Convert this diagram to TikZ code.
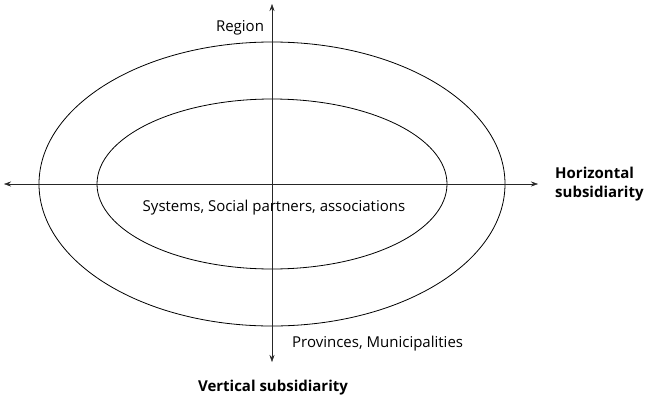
\documentclass[tikz,border=0pt]{standalone}
\usepackage{fontspec}
\setmainfont{Open Sans}
\usetikzlibrary{arrows.meta}

\begin{document}
\begin{tikzpicture}[x=1pt, y=-1pt, every node/.style={font=\fontsize{15}{18}\selectfont},
		axis/.style={draw=black!85, -{Stealth[length=7pt, width=5pt]}},
		ring/.style={draw=black, line width=0.8pt}]
			\useasboundingbox (0,0) rectangle (645,399);

			% Rings
			\draw[ring] (272,184) ellipse [x radius=233, y radius=142];
			\draw[ring] (272,184) ellipse [x radius=175, y radius=85];

			% Axes
			\coordinate (O) at (272,184);
			\coordinate (top) at (272,4);
			\coordinate (bottom) at (272,362);
			\coordinate (left) at (4,184);
			\coordinate (right) at (538,184);
			\draw[axis] (O) -- (top);
			\draw[axis] (O) -- (bottom);
			\draw[axis] (O) -- (left);
			\draw[axis] (O) -- (right);

			% Labels
			\node (region) at (240,28) {Region};
			\node (systems) at (274,208) {Systems, Social partners, associations};
			\node[anchor=west, inner sep=0pt] (provinces) at (292,344) {Provinces, Municipalities};
			\node[anchor=west, inner sep=0pt, align=left, font=\fontsize{15}{19}\selectfont\bfseries] (horizontal) at (555,184) {Horizontal\\subsidiarity};
			\node[font=\fontsize{15}{18}\selectfont\bfseries] (vertical) at (273,388) {Vertical subsidiarity};
		\end{tikzpicture}
\end{document}
